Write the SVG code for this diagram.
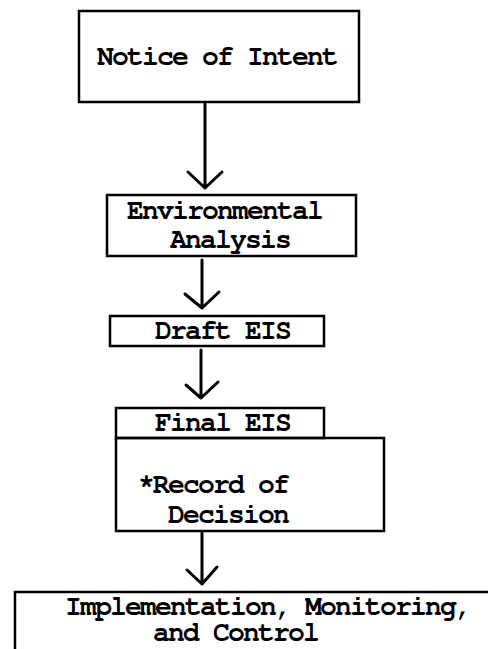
<svg xmlns="http://www.w3.org/2000/svg" width="502" height="649" viewBox="0 0 502 649">
<style>
.box{fill:none;stroke:#000;stroke-width:2.5}
.lbl{font-family:"Nimbus Mono PS","Nimbus Mono L","FreeMono","Courier New","Liberation Mono",monospace;font-size:28px;letter-spacing:-1.8px;font-weight:bold;fill:#000}
.con{fill:none;stroke:#000;stroke-width:3;stroke-linecap:round;stroke-linejoin:round}
</style>
<rect width="502" height="649" fill="#fff"/>
<g id="notice">
<rect class="box" x="79" y="11" width="280" height="91"/>
<text class="lbl" x="97" y="65">Notice of Intent</text>
</g>
<g id="analysis">
<rect class="box" x="107" y="195" width="249" height="61"/>
<text class="lbl" x="127" y="219">Environmental</text>
<text class="lbl" x="170" y="248">Analysis</text>
</g>
<g id="draft">
<rect class="box" x="110" y="316" width="214" height="30"/>
<text class="lbl" x="155" y="339">Draft EIS</text>
</g>
<g id="final">
<rect class="box" x="116" y="408" width="208" height="30"/>
<text class="lbl" x="155" y="431">Final EIS</text>
</g>
<g id="record">
<rect class="box" x="116" y="438" width="268" height="93"/>
<text class="lbl" x="138" y="493">*Record of</text>
<text class="lbl" x="168" y="523">Decision</text>
</g>
<g id="implementation">
<path class="box" d="M488,592 H15 V649"/>
<text class="lbl" x="65" y="615">Implementation, Monitoring,</text>
<text class="lbl" x="153" y="641">and Control</text>
</g>
<g id="connectors">
<path class="con" d="M205,104 V188 M188,172 L205,188 L222,172"/>
<path class="con" d="M202,260 V308 M185,294 L202,308 L219,292"/>
<path class="con" d="M201,350 V398 M186,385 L201,398 L218,382"/>
<path class="con" d="M202,533 V584 M187,570 L202,584 L217,567"/>
</g>
</svg>
